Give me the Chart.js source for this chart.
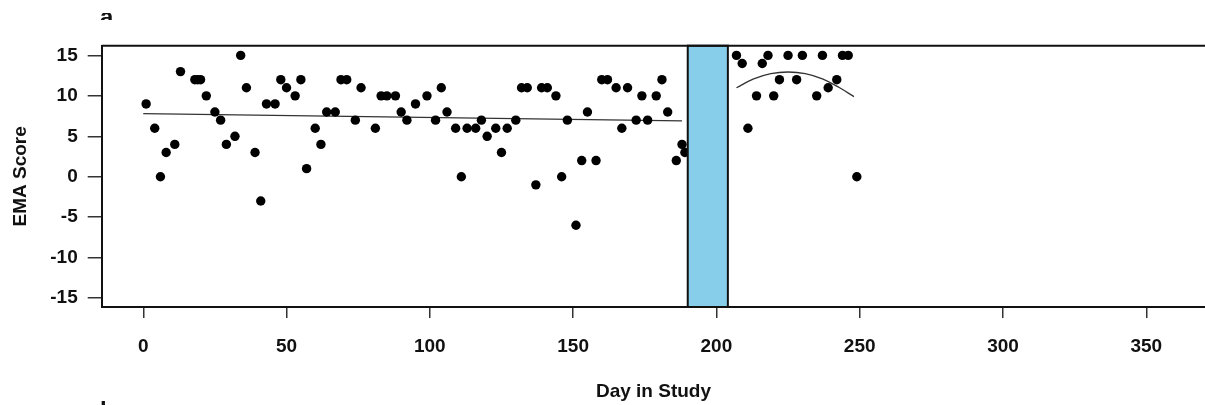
<!DOCTYPE html>
<html>
<head>
<meta charset="utf-8">
<script src="https://cdn.jsdelivr.net/npm/chart.js@4.4.1/dist/chart.umd.min.js"></script>
<style>
    body { margin: 0; background: #fff; overflow: hidden; }
    #wrap { position: relative; width: 1205px; height: 405px; overflow: hidden; }
    .cut { position: absolute; overflow: hidden; font: bold 24px "Liberation Sans", Arial, sans-serif; color: #111; line-height: 24px; }
</style>
</head>
<body>
<div id="wrap">
    <canvas id="emaChart" width="1210" height="405"></canvas>
    <div class="cut" style="left:100px; top:13px; width:30px; height:7px;"><div style="margin-top:-8px;">a.</div></div>
    <div class="cut" style="left:100px; top:400px; width:20px; height:5px;"><div style="margin-top:-1px;">b.</div></div>
</div>
<script>
// baseline phase (before the shaded intervention block)
let preDays = [1, 4, 6, 8, 11, 13, 18, 19, 20, 22, 25, 27, 29, 32, 34, 36, 39, 41, 43, 46,
    48, 50, 53, 55, 57, 60, 62, 64, 67, 69, 71, 74, 76, 81, 83, 85, 88, 90, 92, 95,
    99, 102, 104, 106, 109, 111, 113, 116, 118, 120, 123, 125, 127, 130, 132, 134, 137, 139, 141, 144,
    146, 148, 151, 153, 155, 158, 160, 162, 165, 167, 169, 172, 174, 176, 179, 181, 183, 186, 188, 189];
let preScores = [9, 6, 0, 3, 4, 13, 12, 12, 12, 10, 8, 7, 4, 5, 15, 11, 3, -3, 9, 9,
    12, 11, 10, 12, 1, 6, 4, 8, 8, 12, 12, 7, 11, 6, 10, 10, 10, 8, 7, 9,
    10, 7, 11, 8, 6, 0, 6, 6, 7, 5, 6, 3, 6, 7, 11, 11, -1, 11, 11, 10,
    0, 7, -6, 2, 8, 2, 12, 12, 11, 6, 11, 7, 10, 7, 10, 12, 8, 2, 4, 3];

// follow-up phase
let postDays = [207, 209, 211, 214, 216, 218, 220, 222, 225, 228, 230, 235, 237, 239, 242, 244, 246, 249];
let postScores = [15, 14, 6, 10, 14, 15, 10, 12, 15, 12, 15, 10, 15, 11, 12, 15, 15, 0];

// fitted trend lines
let preTrendDays = [0, 188];
let preTrendScores = [7.8, 6.9];
let postTrendDays = [207, 213, 219, 225, 231, 237, 243, 248];
let postTrendScores = [11.0, 12.1, 12.75, 12.95, 12.75, 12.1, 11.0, 9.9];

// intervention block
let interventionStart = 190;
let interventionEnd = 204;

let labelFont = { family: '"Liberation Sans", Arial, sans-serif', size: 19, weight: 'bold' };
let ink = '#111';

function toPoints(xs, ys) {
    return xs.map((x, i) => ({ x: x, y: ys[i] }));
}

let framePlugin = {
    id: 'frame',
    afterDatasetsDraw(chart) {
        let { ctx, chartArea: a, scales: { x, y } } = chart;
        let left = x.getPixelForValue(interventionStart);
        let right = x.getPixelForValue(interventionEnd);
        let top = y.getPixelForValue(y.max);
        let bottom = y.getPixelForValue(y.min);
        ctx.save();
        ctx.fillStyle = '#87ceeb';
        ctx.fillRect(left, top, right - left, bottom - top);
        ctx.strokeStyle = ink;
        ctx.lineWidth = 2;
        ctx.strokeRect(left, top, right - left, bottom - top);
        ctx.beginPath();
        ctx.moveTo(a.left, a.top);
        ctx.lineTo(a.right, a.top);
        ctx.stroke();
        ctx.restore();
    }
};

let dotStyle = { pointRadius: 4.7, pointHoverRadius: 4.7, pointBackgroundColor: '#000', pointBorderWidth: 0, showLine: false };
let lineStyle = { pointRadius: 0, showLine: true, borderColor: '#333', borderWidth: 1.3, fill: false };

let ctx = document.getElementById('emaChart').getContext('2d');
new Chart(ctx, {
    type: 'scatter',
    data: {
        datasets: [
            { data: toPoints(preDays, preScores), ...dotStyle },
            { data: toPoints(postDays, postScores), ...dotStyle },
            { data: toPoints(preTrendDays, preTrendScores), ...lineStyle, tension: 0 },
            { data: toPoints(postTrendDays, postTrendScores), ...lineStyle, tension: 0.4 }
        ]
    },
    options: {
        responsive: false,
        animation: false,
        events: [],
        layout: { padding: { top: 45.7, left: 0, right: 0, bottom: 0 } },
        plugins: { legend: { display: false }, tooltip: { enabled: false } },
        scales: {
            x: {
                type: 'linear',
                min: -14.5,
                max: 370.6,
                afterFit(scale) { scale.height = 98; },
                border: { display: true, color: ink, width: 2 },
                grid: { drawOnChartArea: false, drawTicks: true, tickLength: 11, color: '#333', lineWidth: 1.5 },
                ticks: { stepSize: 50, includeBounds: false, padding: 17, color: ink, font: labelFont, maxRotation: 0 },
                title: { display: true, text: 'Day in Study', color: ink, font: labelFont, padding: { top: 0, bottom: 2 } }
            },
            y: {
                type: 'linear',
                min: -16.1,
                max: 16.2,
                afterFit(scale) { scale.width = 101.7; },
                border: { display: true, color: ink, width: 2 },
                grid: { drawOnChartArea: false, drawTicks: true, tickLength: 14, color: '#333', lineWidth: 1.5 },
                ticks: { stepSize: 5, includeBounds: false, padding: 10, color: ink, font: labelFont },
                title: { display: true, text: 'EMA Score', color: ink, font: labelFont, padding: { top: 9, bottom: 0 } }
            }
        }
    },
    plugins: [framePlugin]
});
</script>
</body>
</html>
